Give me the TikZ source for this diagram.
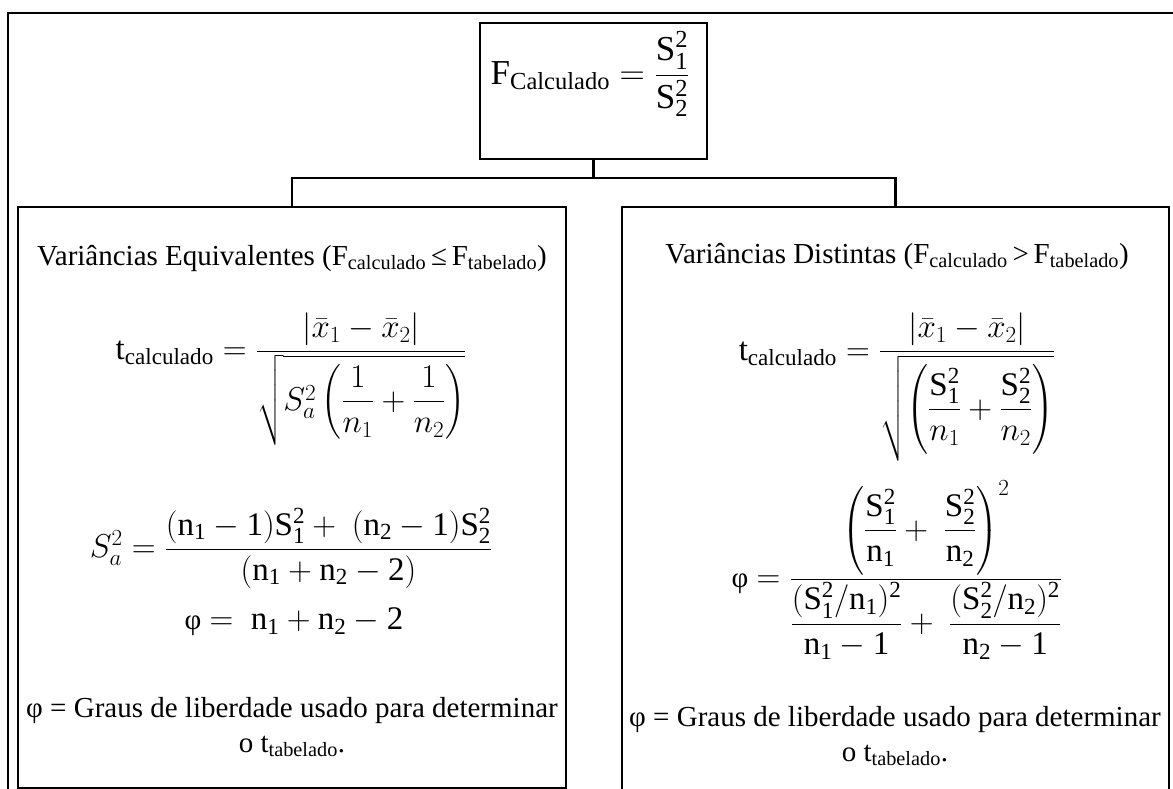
\documentclass[tikz,border=0pt]{standalone}
\usepackage{fix-cm}
\usepackage{amsmath}
\usepackage{fontspec}
\setmainfont{Liberation Serif}

\newcommand{\fitexto}{\fontsize{29}{35}\selectfont}

\tikzset{
  caixa/.style={draw, line width=2.5pt, inner sep=0pt},
  texto/.style={inner sep=0pt, align=center, font=\fitexto},
  formula/.style={inner sep=0pt, align=center, font=\fontsize{33}{40}\selectfont},
}

\begin{document}
\begin{tikzpicture}[x=1pt, y=-1pt, line width=2.5pt, line join=miter]

  %% ════ moldura externa (aberta à direita e embaixo) ════
  \clip (0,0) rectangle (1173,789);
  \draw (8,800) -- (8,13) -- (1190,13);

  %% ════ caixas ════
  \node[caixa, minimum width=227pt, minimum height=136pt] (topo) at (593.5,91) {};
  \node[caixa, minimum width=548pt, minimum height=581pt] (iguais) at (292,497.5) {};
  \node[caixa, minimum width=547pt, minimum height=600pt] (distintas) at (895.5,507) {};

  %% ════ ligações ════
  \coordinate (ramo) at (593.5,178);
  \draw (topo.south) -- (ramo);
  \draw (ramo) -| (iguais.north);
  \draw (ramo) -| (distintas.north);

  %% ════ textos ════
  \node[formula, font=\fontsize{35}{42}\selectfont] (fcalc) at (590,74) {$\mathrm{F_{Calculado}} = \dfrac{\mathrm{S_1^2}}{\mathrm{S_2^2}}$};

  \node[texto] (eqtitulo) at (292,258) {Variâncias Equivalentes (F\textsubscript{calculado}\,≤\,F\textsubscript{tabelado})};
  \node[formula] (eqt) at (291,379) {$\mathrm{t_{calculado}} = \dfrac{|\bar{x}_1-\bar{x}_2|}{\sqrt{S_a^2\left(\dfrac{1}{n_1}+\dfrac{1}{n_2}\right)}}$};
  \node[formula] (eqsa) at (291,548) {$S_a^2 = \dfrac{\mathrm{(n_1-1)S_1^2}+\ \mathrm{(n_2-1)S_2^2}}{\mathrm{(n_1+n_2-2)}}$};
  \node[formula] (eqphi) at (294,622) {{\fitexto φ} $=\ \mathrm{n_1+n_2-2}$};
  \node[texto] (eqnota) at (292,727) {φ = Graus de liberdade usado para determinar\\o t\textsubscript{tabelado}.};

  \node[texto] (dttitulo) at (897,256) {Variâncias Distintas (F\textsubscript{calculado}\,>\,F\textsubscript{tabelado})};
  \node[formula] (dtt) at (897,387) {$\mathrm{t_{calculado}} = \dfrac{|\bar{x}_1-\bar{x}_2|}{\sqrt{\left(\dfrac{\mathrm{S_1^2}}{n_1}+\dfrac{\mathrm{S_2^2}}{n_2}\right)}}$};
  \node[formula] (dtphi) at (897,570) {{\fitexto φ} $= \dfrac{\left(\dfrac{\mathrm{S_1^2}}{\mathrm{n_1}}+\ \dfrac{\mathrm{S_2^2}}{\mathrm{n_2}}\right)^2}{\dfrac{\mathrm{(S_1^2/n_1)^2}}{\mathrm{n_1-1}}+\ \dfrac{\mathrm{(S_2^2/n_2)^2}}{\mathrm{n_2-1}}}$};
  \node[texto] (dtnota) at (895,736) {φ = Graus de liberdade usado para determinar\\o t\textsubscript{tabelado}.};

\end{tikzpicture}
\end{document}
